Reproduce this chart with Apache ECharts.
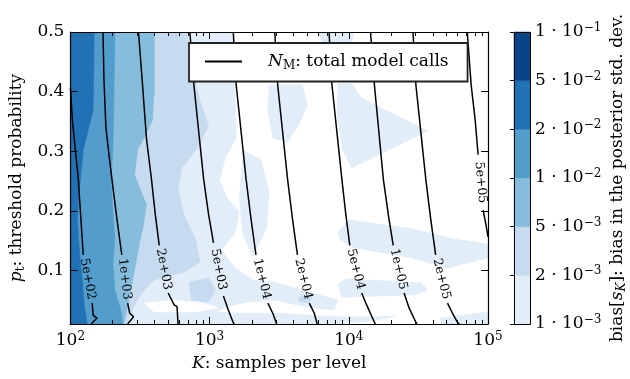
<!DOCTYPE html>
<html><head><meta charset="utf-8">
<script src="https://cdn.jsdelivr.net/npm/echarts@6/dist/echarts.min.js"></script>
<style>html,body{margin:0;padding:0;background:#fff}#c{width:630px;height:379px}</style>
</head><body><div id="c"></div>
<script>
const FONT = 'DejaVu Serif';
// colour levels (bias): 1e-3,2e-3,5e-3,1e-2,2e-2,5e-2,1e-1
const levelColors = ['#e1edf8', '#c6dbef', '#87bddc', '#529dcc', '#2171b5', '#084488'];
const colorbarMantissa = ['1', '2', '5', '1', '2', '5', '1'];
const colorbarExponent = ['3', '3', '3', '2', '2', '2', '1'];
const xTickValues = [100, 1000, 10000, 100000];
const yTickValues = [0.1, 0.2, 0.3, 0.4, 0.5];

// filled-contour regions, points are [log10(K), p_t]
const fillLevel1 = [
  [[2,.5],[3.170,.5],[3.184,.411],[3.191,.322],[3.113,.289],[3.071,.252],[3.128,.221],[3.213,.198],[3.184,.164],[3.085,.134],[3.184,.104],[3.312,.084],[3.468,.080],[3.667,.067],[3.922,.050],[3.894,.033],[3.667,.040],[3.468,.050],[3.277,.047],[3.135,.040],[3.043,.030],[3.241,.028],[3.525,.028],[3.809,.023],[4.092,.022],[4.340,.023],[4.163,.015],[3.879,.010],[2,.010]],
  [[3.780,.5],[4.035,.5],[4.021,.482],[3.809,.482]],
  [[3.426,.411],[3.667,.411],[3.702,.377],[3.638,.344],[3.560,.315],[3.454,.322],[3.418,.369]],
  [[3.922,.413],[4.021,.413],[4.092,.389],[4.567,.334],[4.021,.272],[3.957,.302],[3.915,.361]],
  [[3.241,.302],[3.369,.285],[3.426,.232],[3.411,.171],[3.312,.124],[3.241,.158],[3.213,.218]],
  [[3.922,.164],[4.000,.185],[4.447,.170],[4.730,.154],[5.000,.144],[5.000,.121],[4.709,.104],[4.447,.121],[4.035,.138],[3.936,.151]],
  [[3.922,.077],[3.986,.086],[4.518,.079],[4.567,.067],[4.482,.059],[3.950,.055]],
  [[4.660,.020],[5,.030],[5,.010],[4.660,.010]]
];
const fillBelow1 = [
  [[2.532,.045],[2.745,.050],[2.957,.045],[3.064,.037],[2.887,.030],[2.603,.030]]
];
const fillLevel2 = [
  [[2,.5],[2.837,.5],[2.858,.453],[2.929,.386],[2.993,.342],[2.901,.302],[2.801,.272],[2.773,.235],[2.816,.193],[2.901,.151],[2.929,.114],[2.816,.097],[2.603,.084],[2.518,.064],[2.461,.042],[2.404,.010],[2,.010]],
  [[2.851,.080],[2.993,.087],[3.043,.067],[2.993,.047],[2.872,.050]],
  [[3.652,.057],[3.738,.055],[3.709,.045],[3.638,.049]]
];
const fillLevel3 = [
  [[2,.5],[2.603,.5],[2.603,.403],[2.589,.352],[2.539,.327],[2.482,.302],[2.461,.260],[2.546,.210],[2.525,.176],[2.489,.138],[2.454,.092],[2.418,.047],[2.383,.010],[2,.010]]
];
const fillLevel4 = [
  [[2,.5],[2.319,.5],[2.312,.386],[2.305,.302],[2.291,.252],[2.305,.201],[2.319,.151],[2.305,.109],[2.319,.067],[2.362,.033],[2.376,.010],[2,.010]]
];
const fillLevel5 = [
  [[2,.5],[2.170,.5],[2.163,.369],[2.092,.302],[2.064,.235],[2.050,.185],[2.064,.134],[2.085,.084],[2.099,.042],[2.121,.010],[2,.010]]
];

// N_M contour lines, [log10(K), p_t]; upper part above the inline label, lower part below it
const nmLabels = ['5e+02','1e+03','2e+03','5e+03','1e+04','2e+04','5e+04','1e+05','2e+05','5e+05'];
const nmUpper = [
  [[2.000,.406],[2.014,.352],[2.035,.302],[2.057,.252],[2.071,.201],[2.085,.151],[2.092,.126]],
  [[2.234,.500],[2.241,.419],[2.255,.339],[2.277,.294],[2.298,.253],[2.333,.188],[2.369,.126]],
  [[2.489,.500],[2.518,.411],[2.546,.322],[2.582,.253],[2.610,.193],[2.638,.142]],
  [[2.858,.500],[2.887,.411],[2.957,.253],[2.993,.193],[3.028,.146]],
  [[3.170,.500],[3.191,.411],[3.262,.253],[3.298,.185],[3.333,.126]],
  [[3.468,.500],[3.489,.411],[3.560,.253],[3.596,.185],[3.631,.126]],
  [[3.858,.500],[3.879,.411],[3.950,.253],[3.979,.193],[4.007,.142]],
  [[4.156,.500],[4.184,.411],[4.248,.253],[4.284,.193],[4.319,.142]],
  [[4.461,.500],[4.482,.411],[4.553,.253],[4.589,.185],[4.624,.126]],
  [[4.851,.500],[4.879,.411],[4.908,.352],[4.929,.294]]
];
const nmLower = [
  [[2.156,.045],[2.163,.025],[2.191,.020],[2.149,.010]],
  [[2.411,.045],[2.426,.028],[2.454,.022],[2.411,.010]],
  [[2.702,.062],[2.745,.042],[2.766,.039],[2.773,.010]],
  [[3.099,.057],[3.135,.033],[3.170,.012],[3.177,.010]],
  [[3.418,.045],[3.454,.028],[3.482,.010]],
  [[3.716,.045],[3.752,.028],[3.773,.010]],
  [[4.092,.062],[4.128,.042],[4.184,.013],[4.191,.010]],
  [[4.397,.062],[4.433,.037],[4.482,.013],[4.489,.010]],
  [[4.709,.045],[4.745,.028],[4.780,.013],[4.794,.010]],
  [[4.965,.201],[4.986,.176],[5.000,.156]]
];

const toData = pt => [Math.pow(10, pt[0]), pt[1]];
const fillShapes = [];
fillLevel1.forEach(p => fillShapes.push({poly: p, color: levelColors[0]}));
fillBelow1.forEach(p => fillShapes.push({poly: p, color: '#ffffff'}));
fillLevel2.forEach(p => fillShapes.push({poly: p, color: levelColors[1]}));
fillLevel3.forEach(p => fillShapes.push({poly: p, color: levelColors[2]}));
fillLevel4.forEach(p => fillShapes.push({poly: p, color: levelColors[3]}));
fillLevel5.forEach(p => fillShapes.push({poly: p, color: levelColors[4]}));

const minorTicks = [];
for (let e = 2; e <= 4; e++) for (let m = 2; m <= 9; m++) minorTicks.push(m * Math.pow(10, e));

const txt = {fontFamily: FONT, color: '#000', fontSize: 17};
const rich = {
  n: {fontFamily: FONT, fontSize: 17, lineHeight: 20, color: '#000'},
  i: {fontFamily: FONT, fontSize: 17, lineHeight: 20, fontStyle: 'italic', color: '#000'},
  sub: {fontFamily: FONT, fontSize: 12, lineHeight: 8, verticalAlign: 'bottom', color: '#000'},
  subi: {fontFamily: FONT, fontSize: 12, lineHeight: 8, verticalAlign: 'bottom', fontStyle: 'italic', color: '#000'},
  sup: {fontFamily: FONT, fontSize: 12, lineHeight: 12, verticalAlign: 'top', color: '#000'}
};

const series = [];
series.push({
  type: 'custom', xAxisIndex: 0, yAxisIndex: 0, clip: true, silent: true, z: 1,
  data: fillShapes.map(s => toData(s.poly[0])),
  renderItem: (params, api) => {
    const s = fillShapes[params.dataIndex];
    return {type: 'polygon', shape: {points: s.poly.map(pt => api.coord(toData(pt)))},
      style: {fill: s.color, stroke: s.color, lineWidth: 0.6}};
  }
});
series.push({
  type: 'custom', xAxisIndex: 0, yAxisIndex: 0, silent: true, z: 5,
  data: minorTicks.map(v => [v, 0.01]),
  renderItem: (params, api) => {
    const cs = params.coordSys;
    const x = Math.round(api.coord([api.value(0), 0.01])[0]) + 0.5;
    return {type: 'group', children: [
      {type: 'line', shape: {x1: x, y1: cs.y + cs.height, x2: x, y2: cs.y + cs.height - 4}, style: {stroke: '#000', lineWidth: 1}},
      {type: 'line', shape: {x1: x, y1: cs.y, x2: x, y2: cs.y + 4}, style: {stroke: '#000', lineWidth: 1}}
    ]};
  }
});
nmUpper.forEach((seg, i) => {
  [seg, nmLower[i]].forEach(part => series.push({
    type: 'line', name: 'nm', xAxisIndex: 0, yAxisIndex: 0, symbol: 'none', silent: true, z: 3,
    lineStyle: {color: '#000', width: 1.5}, itemStyle: {color: '#000'}, clip: true,
    data: part.map(toData)
  }));
});
series.push({
  type: 'custom', xAxisIndex: 0, yAxisIndex: 0, silent: true, z: 3,
  data: nmUpper.map(seg => toData(seg[seg.length - 1])),
  renderItem: (params, api) => {
    const i = params.dataIndex;
    const a = api.coord(toData(nmUpper[i][nmUpper[i].length - 1]));
    const b = api.coord(toData(nmLower[i][0]));
    const ang = Math.atan2(b[1] - a[1], b[0] - a[0]);
    return {type: 'text', x: (a[0] + b[0]) / 2, y: (a[1] + b[1]) / 2, rotation: -ang,
      style: {text: nmLabels[i], fontFamily: FONT, fontSize: 12.5, fill: '#000', align: 'center', verticalAlign: 'middle'}};
  }
});
// colorbar
series.push({
  type: 'custom', xAxisIndex: 2, yAxisIndex: 2, silent: true, z: 1,
  data: levelColors.map((c, i) => [0, i]),
  renderItem: (params, api) => {
    const i = params.dataIndex;
    const p0 = api.coord([0, i]), p1 = api.coord([1, i + 1]);
    return {type: 'rect', shape: {x: p0[0], y: p1[1], width: p1[0] - p0[0], height: p0[1] - p1[1]},
      style: {fill: levelColors[i], stroke: levelColors[i], lineWidth: 0.5}};
  }
});
series.push({
  type: 'custom', xAxisIndex: 2, yAxisIndex: 2, silent: true, z: 6,
  data: [[0, 0]],
  renderItem: (params) => {
    const cs = params.coordSys;
    return {type: 'rect', shape: {x: cs.x + 0.5, y: cs.y + 0.5, width: cs.width, height: cs.height},
      style: {fill: 'none', stroke: '#000', lineWidth: 1}};
  }
});

const axisLine = {show: true, lineStyle: {color: '#000', width: 1.2}};
const option = {
  animation: false,
  backgroundColor: '#fff',
  grid: [
    {left: 65, top: 32, width: 423, height: 292},
    {left: 514, top: 32, width: 16, height: 292}
  ],
  legend: {
    data: ['nm'], left: 189, top: 43, orient: 'horizontal',
    padding: [10, 19, 10, 16], itemWidth: 37, itemHeight: 2, icon: 'rect',
    itemStyle: {color: '#000', borderWidth: 0},
    backgroundColor: '#fff', borderColor: '#222', borderWidth: 1.8, borderRadius: 0,
    formatter: () => '{i|N}{sub|M}{n|: total model calls}',
    textStyle: {padding: [0, 0, 0, 21], rich: rich},
    selectedMode: false
  },
  xAxis: [
    {type: 'log', logBase: 10, gridIndex: 0, min: 100, max: 100000, position: 'bottom', z: 10,
     axisLine: axisLine, splitLine: {show: false},
     axisTick: {inside: true, length: 7, customValues: xTickValues, lineStyle: {color: '#000'}},
     axisLabel: {margin: 7, customValues: xTickValues, rich: rich,
       formatter: v => '{n|10}{sup|' + Math.round(Math.log10(v)) + '}'},
     name: '{i|K}{n|: samples per level}', nameLocation: 'middle', nameGap: 30,
     nameTextStyle: {rich: rich}},
    {type: 'log', logBase: 10, gridIndex: 0, min: 100, max: 100000, position: 'top', z: 10,
     axisLine: axisLine, splitLine: {show: false},
     axisTick: {inside: true, length: 7, customValues: xTickValues, lineStyle: {color: '#000'}},
     axisLabel: {show: false}},
    {type: 'value', gridIndex: 1, min: 0, max: 1, show: false}
  ],
  yAxis: [
    {type: 'value', gridIndex: 0, min: 0.01, max: 0.5, position: 'left', z: 10,
     axisLine: axisLine, splitLine: {show: false},
     axisTick: {inside: true, length: 7, customValues: yTickValues, lineStyle: {color: '#000'}},
     axisLabel: {margin: 6, customValues: yTickValues, formatter: v => v.toFixed(1), ...txt},
     name: '{i|p}{sub|t}{n|: threshold probability}', nameLocation: 'middle', nameGap: 36, nameRotate: 90,
     nameTextStyle: {rich: rich}},
    {type: 'value', gridIndex: 0, min: 0.01, max: 0.5, position: 'right', z: 10,
     axisLine: axisLine, splitLine: {show: false},
     axisTick: {inside: true, length: 7, customValues: yTickValues, lineStyle: {color: '#000'}},
     axisLabel: {show: false}},
    {type: 'value', gridIndex: 1, min: 0, max: 6, interval: 1, position: 'right', z: 10,
     axisLine: {show: false}, splitLine: {show: false},
     axisTick: {inside: true, length: 4, lineStyle: {color: '#000'}},
     axisLabel: {margin: 5, rich: rich,
       formatter: v => '{n|' + colorbarMantissa[v] + ' · 10}{sup|−' + colorbarExponent[v] + '}'},
     name: '{n|bias[}{i|s}{subi|K}{n|]: bias in the posterior std. dev.}', nameLocation: 'middle',
     nameGap: 78, nameRotate: 90, nameTextStyle: {rich: rich}}
  ],
  series: series
};
const chart = echarts.init(document.getElementById('c'), null, {renderer: 'canvas'});
chart.setOption(option);
</script></body></html>
